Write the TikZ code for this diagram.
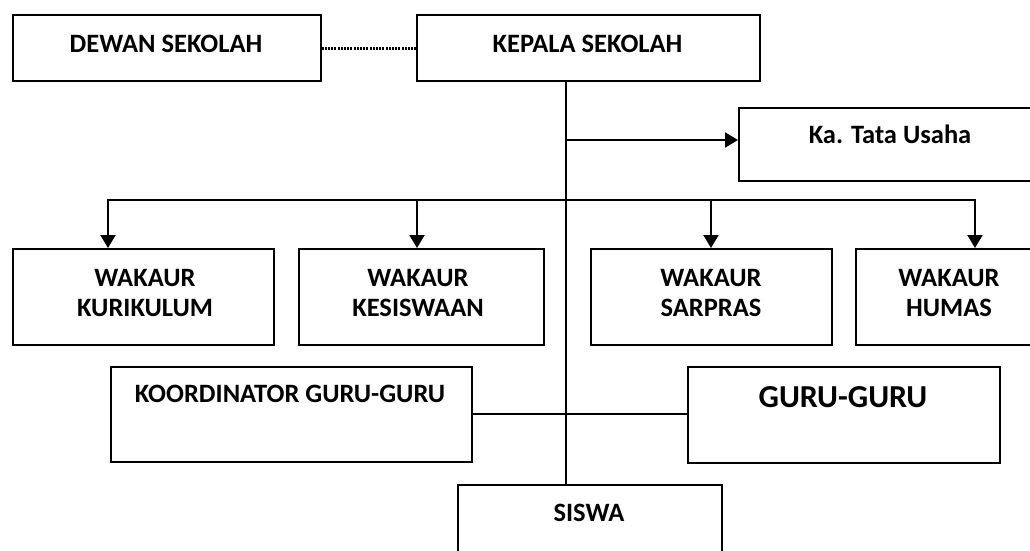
\documentclass[tikz,border=0pt]{standalone}
\usepackage{fontspec}
\setmainfont{Carlito}
\usetikzlibrary{arrows.meta}
\begin{document}
\begin{tikzpicture}[x=1pt,y=-1pt,
  box/.style={draw, line width=1.6pt, anchor=north west, inner sep=0pt},
  lbl/.style={font=\fontsize{26.5}{29.5}\selectfont\bfseries, align=center, inner sep=0pt},
  big/.style={font=\fontsize{32}{36}\selectfont\bfseries, align=center, inner sep=0pt},
  conn/.style={line width=2pt},
  tip/.tip={Triangle[length=13pt,width=15pt]},
  arr/.style={conn, -tip}]
\useasboundingbox (0,0) rectangle (1030,550);
\clip (0,0) rectangle (1030,550);
% boxes
\node[box, minimum width=308pt, minimum height=66pt] (dewan) at (12,14) {};
\node[box, minimum width=343pt, minimum height=66pt] (kepala) at (416,14) {};
\node[box, minimum width=310pt, minimum height=73pt] (ka) at (738,107) {};
\node[box, minimum width=261pt, minimum height=96pt] (kurik) at (12,248) {};
\node[box, minimum width=245pt, minimum height=96pt] (kesis) at (298,248) {};
\node[box, minimum width=241pt, minimum height=96pt] (sarpras) at (590,248) {};
\node[box, minimum width=200pt, minimum height=96pt] (humas) at (855,248) {};
\node[box, minimum width=361pt, minimum height=95pt] (koor) at (110,366) {};
\node[box, minimum width=312pt, minimum height=96pt] (guru) at (687,366) {};
\node[box, minimum width=264pt, minimum height=100pt] (siswa) at (457,484) {};
% labels
\node[lbl, anchor=base] (dewanT) at (166,52) {DEWAN SEKOLAH};
\node[lbl, anchor=base] (kepalaT) at (587.5,52) {KEPALA SEKOLAH};
\node[lbl, anchor=base] (kaT) at (890,143.5) {Ka. Tata Usaha};
\node[lbl, anchor=north] (kurikT) at (145,269.5) {WAKAUR\\KURIKULUM};
\node[lbl, anchor=north] (kesisT) at (418,269.5) {WAKAUR\\KESISWAAN};
\node[lbl, anchor=north] (sarprasT) at (711,269.5) {WAKAUR\\SARPRAS};
\node[lbl, anchor=north] (humasT) at (949,269.5) {WAKAUR\\HUMAS};
\node[lbl, anchor=base] (koorT) at (290,402) {KOORDINATOR GURU-GURU};
\node[big, anchor=base] (guruT) at (843,407.3) {GURU-GURU};
\node[lbl, anchor=base] (siswaT) at (589,521.5) {SISWA};
% connector points
\coordinate (trunk) at (566,0);
\coordinate (kaj) at (566,140);
\coordinate (busL) at (108,200);
\coordinate (busR) at (975,200);
\coordinate (b2) at (417,200);
\coordinate (b3) at (711,200);
% connectors
\draw[line width=3pt, dash pattern=on 2pt off 1.2pt] ([yshift=-1pt]dewan.east) -- ([yshift=-1pt]kepala.west);
\draw[conn] (kepala.south -| trunk) -- (siswa.north -| trunk);
\draw[arr] (kaj) -- (kaj -| ka.west);
\draw[conn, tip-tip, line join=miter] (busL |- kurik.north) -- (busL) -- (busR) -- (busR |- humas.north);
\draw[arr] (b2) -- (b2 |- kesis.north);
\draw[arr] (b3) -- (b3 |- sarpras.north);
\draw[conn] (koor.east) -- (koor.east -| guru.west);
\end{tikzpicture}
\end{document}
